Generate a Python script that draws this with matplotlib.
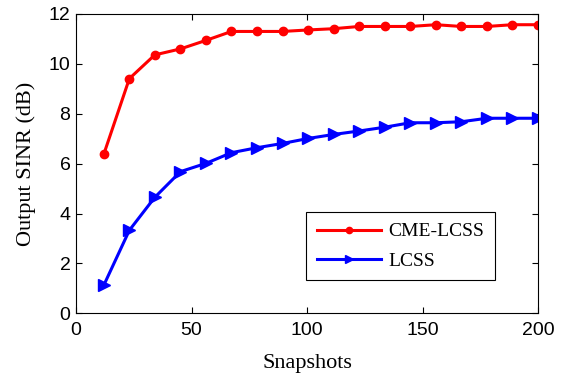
import matplotlib
matplotlib.use("Agg")
import matplotlib.pyplot as plt

snapshots = [12, 23.1, 34.1, 45.2, 56.2, 67.3, 78.4, 89.4, 100.5, 111.5,
             122.6, 133.6, 144.7, 155.8, 166.8, 177.9, 188.9, 200]
cme_lcss = [6.37, 9.41, 10.36, 10.6, 10.94, 11.3, 11.3, 11.3, 11.36, 11.41,
            11.5, 11.5, 11.5, 11.57, 11.5, 11.5, 11.57, 11.57]
lcss = [1.12, 3.33, 4.65, 5.68, 6.01, 6.44, 6.64, 6.81, 7.01, 7.17,
        7.31, 7.46, 7.64, 7.64, 7.68, 7.82, 7.82, 7.82]
xticks = [0, 50, 100, 150, 200]
yticks = [0, 2, 4, 6, 8, 10, 12]

serif = ["Liberation Serif", "DejaVu Serif"]
sans = ["Liberation Sans", "DejaVu Sans"]

fig = plt.figure(figsize=(5.61, 3.73), dpi=100)
ax = fig.add_axes([0.1355, 0.16, 0.8235, 0.8025])

ax.plot(snapshots, cme_lcss, color="#ff0000", lw=2.2, marker="o",
        markersize=6, label="CME-LCSS")
ax.plot(snapshots, lcss, color="#0000ff", lw=2.2, marker=">",
        markersize=8, label="LCSS")

ax.set_xlim(0, 200)
ax.set_ylim(0, 12)
ax.set_xticks(xticks)
ax.set_yticks(yticks)
ax.tick_params(direction="in", top=True, right=True, length=4, width=0.8,
               labelsize=14)
ax.tick_params(axis="x", pad=6)
ax.tick_params(axis="y", pad=4)
for lab in ax.get_xticklabels() + ax.get_yticklabels():
    lab.set_family(sans)
for s in ax.spines.values():
    s.set_linewidth(0.8)

ax.set_xlabel("Snapshots", family=serif, fontsize=16, labelpad=11)
ax.set_ylabel("Output SINR (dB)", family=serif, fontsize=16, labelpad=9)

leg = ax.legend(loc="lower right", bbox_to_anchor=(0.907, 0.11),
                borderaxespad=0,
                prop={"family": serif, "size": 14}, frameon=True,
                fancybox=False, edgecolor="black", framealpha=1,
                handlelength=3.3, handletextpad=0.4, borderpad=0.55,
                labelspacing=0.6, markerscale=0.75)
leg.get_frame().set_linewidth(0.8)

fig.savefig("out.png", dpi=100)
